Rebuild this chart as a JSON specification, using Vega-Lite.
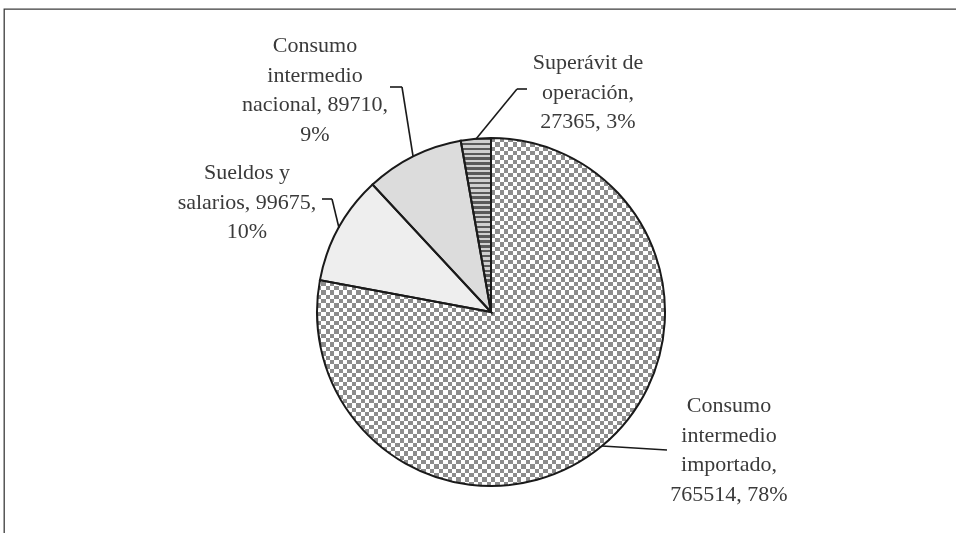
{
  "$schema": "https://vega.github.io/schema/vega-lite/v6.json",
  "width": 952,
  "height": 524,
  "autosize": {"type": "none"},
  "padding": {"left": 4, "top": 9, "right": 0, "bottom": 0},
  "background": "white",
  "view": {"stroke": "#3c3c3c", "strokeWidth": 1.3, "fill": "white", "strokeDash": [952, 1476, 524, 0]},
  "config": {
    "text": {"font": "Liberation Serif", "fontSize": 22, "fill": "#3a3a3a", "align": "center", "baseline": "middle", "lineBreak": "\n", "lineHeight": 29.5},
    "rule": {"stroke": "#1a1a1a", "strokeWidth": 1.6}
  },
  "data": {
    "values": [
      {"cat": "Consumo intermedio importado", "value": 765514, "label": "Consumo\nintermedio\nimportado,\n765514, 78%"},
      {"cat": "Sueldos y salarios", "value": 99675, "label": "Sueldos y\nsalarios, 99675,\n10%"},
      {"cat": "Consumo intermedio nacional", "value": 89710, "label": "Consumo\nintermedio\nnacional, 89710,\n9%"},
      {"cat": "Superávit de operación", "value": 27365, "label": "Superávit de\noperación,\n27365, 3%"}
    ]
  },
  "layer": [
    {
      "mark": {"type": "arc", "outerRadius": 174, "xOffset": 11, "yOffset": 41},
      "encoding": {
        "theta": {"field": "value", "type": "quantitative", "stack": true},
        "order": {"field": "value", "type": "quantitative", "sort": "descending"},
        "color": {
          "field": "cat",
          "type": "nominal",
          "scale": {
            "domain": ["Consumo intermedio importado", "Sueldos y salarios", "Consumo intermedio nacional", "Superávit de operación"],
            "range": ["#c2c2c2", "#eeeeee", "#dcdcdc", "#8a8a8a"]
          },
          "legend": null
        }
      }
    },
    {
      "mark": {
        "type": "arc", "outerRadius": 174, "xOffset": 11, "yOffset": 41,
        "fill": {"gradient": "linear", "x1": 0, "y1": 0, "x2": 1, "y2": 0, "stops": [
          {"offset": 0, "color": "#fff"},
          {"offset": 0.0125, "color": "#fff"}, {"offset": 0.0125, "color": "#000"},
          {"offset": 0.025, "color": "#000"}, {"offset": 0.025, "color": "#fff"},
          {"offset": 0.0375, "color": "#fff"}, {"offset": 0.0375, "color": "#000"},
          {"offset": 0.05, "color": "#000"}, {"offset": 0.05, "color": "#fff"},
          {"offset": 0.0625, "color": "#fff"}, {"offset": 0.0625, "color": "#000"},
          {"offset": 0.075, "color": "#000"}, {"offset": 0.075, "color": "#fff"},
          {"offset": 0.0875, "color": "#fff"}, {"offset": 0.0875, "color": "#000"},
          {"offset": 0.1, "color": "#000"}, {"offset": 0.1, "color": "#fff"},
          {"offset": 0.1125, "color": "#fff"}, {"offset": 0.1125, "color": "#000"},
          {"offset": 0.125, "color": "#000"}, {"offset": 0.125, "color": "#fff"},
          {"offset": 0.1375, "color": "#fff"}, {"offset": 0.1375, "color": "#000"},
          {"offset": 0.15, "color": "#000"}, {"offset": 0.15, "color": "#fff"},
          {"offset": 0.1625, "color": "#fff"}, {"offset": 0.1625, "color": "#000"},
          {"offset": 0.175, "color": "#000"}, {"offset": 0.175, "color": "#fff"},
          {"offset": 0.1875, "color": "#fff"}, {"offset": 0.1875, "color": "#000"},
          {"offset": 0.2, "color": "#000"}, {"offset": 0.2, "color": "#fff"},
          {"offset": 0.2125, "color": "#fff"}, {"offset": 0.2125, "color": "#000"},
          {"offset": 0.225, "color": "#000"}, {"offset": 0.225, "color": "#fff"},
          {"offset": 0.2375, "color": "#fff"}, {"offset": 0.2375, "color": "#000"},
          {"offset": 0.25, "color": "#000"}, {"offset": 0.25, "color": "#fff"},
          {"offset": 0.2625, "color": "#fff"}, {"offset": 0.2625, "color": "#000"},
          {"offset": 0.275, "color": "#000"}, {"offset": 0.275, "color": "#fff"},
          {"offset": 0.2875, "color": "#fff"}, {"offset": 0.2875, "color": "#000"},
          {"offset": 0.3, "color": "#000"}, {"offset": 0.3, "color": "#fff"},
          {"offset": 0.3125, "color": "#fff"}, {"offset": 0.3125, "color": "#000"},
          {"offset": 0.325, "color": "#000"}, {"offset": 0.325, "color": "#fff"},
          {"offset": 0.3375, "color": "#fff"}, {"offset": 0.3375, "color": "#000"},
          {"offset": 0.35, "color": "#000"}, {"offset": 0.35, "color": "#fff"},
          {"offset": 0.3625, "color": "#fff"}, {"offset": 0.3625, "color": "#000"},
          {"offset": 0.375, "color": "#000"}, {"offset": 0.375, "color": "#fff"},
          {"offset": 0.3875, "color": "#fff"}, {"offset": 0.3875, "color": "#000"},
          {"offset": 0.4, "color": "#000"}, {"offset": 0.4, "color": "#fff"},
          {"offset": 0.4125, "color": "#fff"}, {"offset": 0.4125, "color": "#000"},
          {"offset": 0.425, "color": "#000"}, {"offset": 0.425, "color": "#fff"},
          {"offset": 0.4375, "color": "#fff"}, {"offset": 0.4375, "color": "#000"},
          {"offset": 0.45, "color": "#000"}, {"offset": 0.45, "color": "#fff"},
          {"offset": 0.4625, "color": "#fff"}, {"offset": 0.4625, "color": "#000"},
          {"offset": 0.475, "color": "#000"}, {"offset": 0.475, "color": "#fff"},
          {"offset": 0.4875, "color": "#fff"}, {"offset": 0.4875, "color": "#000"},
          {"offset": 0.5, "color": "#000"}, {"offset": 0.5, "color": "#fff"},
          {"offset": 0.5125, "color": "#fff"}, {"offset": 0.5125, "color": "#000"},
          {"offset": 0.525, "color": "#000"}, {"offset": 0.525, "color": "#fff"},
          {"offset": 0.5375, "color": "#fff"}, {"offset": 0.5375, "color": "#000"},
          {"offset": 0.55, "color": "#000"}, {"offset": 0.55, "color": "#fff"},
          {"offset": 0.5625, "color": "#fff"}, {"offset": 0.5625, "color": "#000"},
          {"offset": 0.575, "color": "#000"}, {"offset": 0.575, "color": "#fff"},
          {"offset": 0.5875, "color": "#fff"}, {"offset": 0.5875, "color": "#000"},
          {"offset": 0.6, "color": "#000"}, {"offset": 0.6, "color": "#fff"},
          {"offset": 0.6125, "color": "#fff"}, {"offset": 0.6125, "color": "#000"},
          {"offset": 0.625, "color": "#000"}, {"offset": 0.625, "color": "#fff"},
          {"offset": 0.6375, "color": "#fff"}, {"offset": 0.6375, "color": "#000"},
          {"offset": 0.65, "color": "#000"}, {"offset": 0.65, "color": "#fff"},
          {"offset": 0.6625, "color": "#fff"}, {"offset": 0.6625, "color": "#000"},
          {"offset": 0.675, "color": "#000"}, {"offset": 0.675, "color": "#fff"},
          {"offset": 0.6875, "color": "#fff"}, {"offset": 0.6875, "color": "#000"},
          {"offset": 0.7, "color": "#000"}, {"offset": 0.7, "color": "#fff"},
          {"offset": 0.7125, "color": "#fff"}, {"offset": 0.7125, "color": "#000"},
          {"offset": 0.725, "color": "#000"}, {"offset": 0.725, "color": "#fff"},
          {"offset": 0.7375, "color": "#fff"}, {"offset": 0.7375, "color": "#000"},
          {"offset": 0.75, "color": "#000"}, {"offset": 0.75, "color": "#fff"},
          {"offset": 0.7625, "color": "#fff"}, {"offset": 0.7625, "color": "#000"},
          {"offset": 0.775, "color": "#000"}, {"offset": 0.775, "color": "#fff"},
          {"offset": 0.7875, "color": "#fff"}, {"offset": 0.7875, "color": "#000"},
          {"offset": 0.8, "color": "#000"}, {"offset": 0.8, "color": "#fff"},
          {"offset": 0.8125, "color": "#fff"}, {"offset": 0.8125, "color": "#000"},
          {"offset": 0.825, "color": "#000"}, {"offset": 0.825, "color": "#fff"},
          {"offset": 0.8375, "color": "#fff"}, {"offset": 0.8375, "color": "#000"},
          {"offset": 0.85, "color": "#000"}, {"offset": 0.85, "color": "#fff"},
          {"offset": 0.8625, "color": "#fff"}, {"offset": 0.8625, "color": "#000"},
          {"offset": 0.875, "color": "#000"}, {"offset": 0.875, "color": "#fff"},
          {"offset": 0.8875, "color": "#fff"}, {"offset": 0.8875, "color": "#000"},
          {"offset": 0.9, "color": "#000"}, {"offset": 0.9, "color": "#fff"},
          {"offset": 0.9125, "color": "#fff"}, {"offset": 0.9125, "color": "#000"},
          {"offset": 0.925, "color": "#000"}, {"offset": 0.925, "color": "#fff"},
          {"offset": 0.9375, "color": "#fff"}, {"offset": 0.9375, "color": "#000"},
          {"offset": 0.95, "color": "#000"}, {"offset": 0.95, "color": "#fff"},
          {"offset": 0.9625, "color": "#fff"}, {"offset": 0.9625, "color": "#000"},
          {"offset": 0.975, "color": "#000"}, {"offset": 0.975, "color": "#fff"},
          {"offset": 0.9875, "color": "#fff"}, {"offset": 0.9875, "color": "#000"},
          {"offset": 1, "color": "#000"}
        ]}
      },
      "encoding": {
        "theta": {"field": "value", "type": "quantitative", "stack": true},
        "order": {"field": "value", "type": "quantitative", "sort": "descending"},
        "fillOpacity": {"condition": {"test": "datum.cat === 'Consumo intermedio importado'", "value": 1}, "value": 0}
      }
    },
    {
      "mark": {
        "type": "arc", "outerRadius": 174, "xOffset": 11, "yOffset": 41,
        "blend": "difference",
        "fill": {"gradient": "linear", "x1": 0, "y1": 0, "x2": 0, "y2": 1, "stops": [
          {"offset": 0, "color": "#fff"},
          {"offset": 0.0125, "color": "#fff"}, {"offset": 0.0125, "color": "#000"},
          {"offset": 0.025, "color": "#000"}, {"offset": 0.025, "color": "#fff"},
          {"offset": 0.0375, "color": "#fff"}, {"offset": 0.0375, "color": "#000"},
          {"offset": 0.05, "color": "#000"}, {"offset": 0.05, "color": "#fff"},
          {"offset": 0.0625, "color": "#fff"}, {"offset": 0.0625, "color": "#000"},
          {"offset": 0.075, "color": "#000"}, {"offset": 0.075, "color": "#fff"},
          {"offset": 0.0875, "color": "#fff"}, {"offset": 0.0875, "color": "#000"},
          {"offset": 0.1, "color": "#000"}, {"offset": 0.1, "color": "#fff"},
          {"offset": 0.1125, "color": "#fff"}, {"offset": 0.1125, "color": "#000"},
          {"offset": 0.125, "color": "#000"}, {"offset": 0.125, "color": "#fff"},
          {"offset": 0.1375, "color": "#fff"}, {"offset": 0.1375, "color": "#000"},
          {"offset": 0.15, "color": "#000"}, {"offset": 0.15, "color": "#fff"},
          {"offset": 0.1625, "color": "#fff"}, {"offset": 0.1625, "color": "#000"},
          {"offset": 0.175, "color": "#000"}, {"offset": 0.175, "color": "#fff"},
          {"offset": 0.1875, "color": "#fff"}, {"offset": 0.1875, "color": "#000"},
          {"offset": 0.2, "color": "#000"}, {"offset": 0.2, "color": "#fff"},
          {"offset": 0.2125, "color": "#fff"}, {"offset": 0.2125, "color": "#000"},
          {"offset": 0.225, "color": "#000"}, {"offset": 0.225, "color": "#fff"},
          {"offset": 0.2375, "color": "#fff"}, {"offset": 0.2375, "color": "#000"},
          {"offset": 0.25, "color": "#000"}, {"offset": 0.25, "color": "#fff"},
          {"offset": 0.2625, "color": "#fff"}, {"offset": 0.2625, "color": "#000"},
          {"offset": 0.275, "color": "#000"}, {"offset": 0.275, "color": "#fff"},
          {"offset": 0.2875, "color": "#fff"}, {"offset": 0.2875, "color": "#000"},
          {"offset": 0.3, "color": "#000"}, {"offset": 0.3, "color": "#fff"},
          {"offset": 0.3125, "color": "#fff"}, {"offset": 0.3125, "color": "#000"},
          {"offset": 0.325, "color": "#000"}, {"offset": 0.325, "color": "#fff"},
          {"offset": 0.3375, "color": "#fff"}, {"offset": 0.3375, "color": "#000"},
          {"offset": 0.35, "color": "#000"}, {"offset": 0.35, "color": "#fff"},
          {"offset": 0.3625, "color": "#fff"}, {"offset": 0.3625, "color": "#000"},
          {"offset": 0.375, "color": "#000"}, {"offset": 0.375, "color": "#fff"},
          {"offset": 0.3875, "color": "#fff"}, {"offset": 0.3875, "color": "#000"},
          {"offset": 0.4, "color": "#000"}, {"offset": 0.4, "color": "#fff"},
          {"offset": 0.4125, "color": "#fff"}, {"offset": 0.4125, "color": "#000"},
          {"offset": 0.425, "color": "#000"}, {"offset": 0.425, "color": "#fff"},
          {"offset": 0.4375, "color": "#fff"}, {"offset": 0.4375, "color": "#000"},
          {"offset": 0.45, "color": "#000"}, {"offset": 0.45, "color": "#fff"},
          {"offset": 0.4625, "color": "#fff"}, {"offset": 0.4625, "color": "#000"},
          {"offset": 0.475, "color": "#000"}, {"offset": 0.475, "color": "#fff"},
          {"offset": 0.4875, "color": "#fff"}, {"offset": 0.4875, "color": "#000"},
          {"offset": 0.5, "color": "#000"}, {"offset": 0.5, "color": "#fff"},
          {"offset": 0.5125, "color": "#fff"}, {"offset": 0.5125, "color": "#000"},
          {"offset": 0.525, "color": "#000"}, {"offset": 0.525, "color": "#fff"},
          {"offset": 0.5375, "color": "#fff"}, {"offset": 0.5375, "color": "#000"},
          {"offset": 0.55, "color": "#000"}, {"offset": 0.55, "color": "#fff"},
          {"offset": 0.5625, "color": "#fff"}, {"offset": 0.5625, "color": "#000"},
          {"offset": 0.575, "color": "#000"}, {"offset": 0.575, "color": "#fff"},
          {"offset": 0.5875, "color": "#fff"}, {"offset": 0.5875, "color": "#000"},
          {"offset": 0.6, "color": "#000"}, {"offset": 0.6, "color": "#fff"},
          {"offset": 0.6125, "color": "#fff"}, {"offset": 0.6125, "color": "#000"},
          {"offset": 0.625, "color": "#000"}, {"offset": 0.625, "color": "#fff"},
          {"offset": 0.6375, "color": "#fff"}, {"offset": 0.6375, "color": "#000"},
          {"offset": 0.65, "color": "#000"}, {"offset": 0.65, "color": "#fff"},
          {"offset": 0.6625, "color": "#fff"}, {"offset": 0.6625, "color": "#000"},
          {"offset": 0.675, "color": "#000"}, {"offset": 0.675, "color": "#fff"},
          {"offset": 0.6875, "color": "#fff"}, {"offset": 0.6875, "color": "#000"},
          {"offset": 0.7, "color": "#000"}, {"offset": 0.7, "color": "#fff"},
          {"offset": 0.7125, "color": "#fff"}, {"offset": 0.7125, "color": "#000"},
          {"offset": 0.725, "color": "#000"}, {"offset": 0.725, "color": "#fff"},
          {"offset": 0.7375, "color": "#fff"}, {"offset": 0.7375, "color": "#000"},
          {"offset": 0.75, "color": "#000"}, {"offset": 0.75, "color": "#fff"},
          {"offset": 0.7625, "color": "#fff"}, {"offset": 0.7625, "color": "#000"},
          {"offset": 0.775, "color": "#000"}, {"offset": 0.775, "color": "#fff"},
          {"offset": 0.7875, "color": "#fff"}, {"offset": 0.7875, "color": "#000"},
          {"offset": 0.8, "color": "#000"}, {"offset": 0.8, "color": "#fff"},
          {"offset": 0.8125, "color": "#fff"}, {"offset": 0.8125, "color": "#000"},
          {"offset": 0.825, "color": "#000"}, {"offset": 0.825, "color": "#fff"},
          {"offset": 0.8375, "color": "#fff"}, {"offset": 0.8375, "color": "#000"},
          {"offset": 0.85, "color": "#000"}, {"offset": 0.85, "color": "#fff"},
          {"offset": 0.8625, "color": "#fff"}, {"offset": 0.8625, "color": "#000"},
          {"offset": 0.875, "color": "#000"}, {"offset": 0.875, "color": "#fff"},
          {"offset": 0.8875, "color": "#fff"}, {"offset": 0.8875, "color": "#000"},
          {"offset": 0.9, "color": "#000"}, {"offset": 0.9, "color": "#fff"},
          {"offset": 0.9125, "color": "#fff"}, {"offset": 0.9125, "color": "#000"},
          {"offset": 0.925, "color": "#000"}, {"offset": 0.925, "color": "#fff"},
          {"offset": 0.9375, "color": "#fff"}, {"offset": 0.9375, "color": "#000"},
          {"offset": 0.95, "color": "#000"}, {"offset": 0.95, "color": "#fff"},
          {"offset": 0.9625, "color": "#fff"}, {"offset": 0.9625, "color": "#000"},
          {"offset": 0.975, "color": "#000"}, {"offset": 0.975, "color": "#fff"},
          {"offset": 0.9875, "color": "#fff"}, {"offset": 0.9875, "color": "#000"},
          {"offset": 1, "color": "#000"}
        ]}
      },
      "encoding": {
        "theta": {"field": "value", "type": "quantitative", "stack": true},
        "order": {"field": "value", "type": "quantitative", "sort": "descending"},
        "fillOpacity": {"condition": {"test": "datum.cat === 'Consumo intermedio importado'", "value": 1}, "value": 0}
      }
    },
    {
      "mark": {"type": "arc", "outerRadius": 174, "xOffset": 11, "yOffset": 41, "fill": "#ffffff"},
      "encoding": {
        "theta": {"field": "value", "type": "quantitative", "stack": true},
        "order": {"field": "value", "type": "quantitative", "sort": "descending"},
        "fillOpacity": {"condition": {"test": "datum.cat === 'Consumo intermedio importado'", "value": 0.55}, "value": 0}
      }
    },
    {
      "mark": {
        "type": "arc", "outerRadius": 174, "xOffset": 11, "yOffset": 41,
        "fill": {"gradient": "linear", "x1": 0, "y1": 0, "x2": 0, "y2": 1, "stops": [
          {"offset": 0, "color": "#5a5a5a"},
          {"offset": 0.014, "color": "#5a5a5a"}, {"offset": 0.014, "color": "#d0d0d0"},
          {"offset": 0.028, "color": "#d0d0d0"}, {"offset": 0.028, "color": "#5a5a5a"},
          {"offset": 0.042, "color": "#5a5a5a"}, {"offset": 0.042, "color": "#d0d0d0"},
          {"offset": 0.056, "color": "#d0d0d0"}, {"offset": 0.056, "color": "#5a5a5a"},
          {"offset": 0.07, "color": "#5a5a5a"}, {"offset": 0.07, "color": "#d0d0d0"},
          {"offset": 0.084, "color": "#d0d0d0"}, {"offset": 0.084, "color": "#5a5a5a"},
          {"offset": 0.098, "color": "#5a5a5a"}, {"offset": 0.098, "color": "#d0d0d0"},
          {"offset": 0.112, "color": "#d0d0d0"}, {"offset": 0.112, "color": "#5a5a5a"},
          {"offset": 0.126, "color": "#5a5a5a"}, {"offset": 0.126, "color": "#d0d0d0"},
          {"offset": 0.14, "color": "#d0d0d0"}, {"offset": 0.14, "color": "#5a5a5a"},
          {"offset": 0.154, "color": "#5a5a5a"}, {"offset": 0.154, "color": "#d0d0d0"},
          {"offset": 0.168, "color": "#d0d0d0"}, {"offset": 0.168, "color": "#5a5a5a"},
          {"offset": 0.182, "color": "#5a5a5a"}, {"offset": 0.182, "color": "#d0d0d0"},
          {"offset": 0.196, "color": "#d0d0d0"}, {"offset": 0.196, "color": "#5a5a5a"},
          {"offset": 0.21, "color": "#5a5a5a"}, {"offset": 0.21, "color": "#d0d0d0"},
          {"offset": 0.224, "color": "#d0d0d0"}, {"offset": 0.224, "color": "#5a5a5a"},
          {"offset": 0.238, "color": "#5a5a5a"}, {"offset": 0.238, "color": "#d0d0d0"},
          {"offset": 0.252, "color": "#d0d0d0"}, {"offset": 0.252, "color": "#5a5a5a"},
          {"offset": 0.266, "color": "#5a5a5a"}, {"offset": 0.266, "color": "#d0d0d0"},
          {"offset": 0.28, "color": "#d0d0d0"}, {"offset": 0.28, "color": "#5a5a5a"},
          {"offset": 0.294, "color": "#5a5a5a"}, {"offset": 0.294, "color": "#d0d0d0"},
          {"offset": 0.308, "color": "#d0d0d0"}, {"offset": 0.308, "color": "#5a5a5a"},
          {"offset": 0.322, "color": "#5a5a5a"}, {"offset": 0.322, "color": "#d0d0d0"},
          {"offset": 0.336, "color": "#d0d0d0"}, {"offset": 0.336, "color": "#5a5a5a"},
          {"offset": 0.35, "color": "#5a5a5a"}, {"offset": 0.35, "color": "#d0d0d0"},
          {"offset": 0.364, "color": "#d0d0d0"}, {"offset": 0.364, "color": "#5a5a5a"},
          {"offset": 0.378, "color": "#5a5a5a"}, {"offset": 0.378, "color": "#d0d0d0"},
          {"offset": 0.392, "color": "#d0d0d0"}, {"offset": 0.392, "color": "#5a5a5a"},
          {"offset": 0.406, "color": "#5a5a5a"}, {"offset": 0.406, "color": "#d0d0d0"},
          {"offset": 0.42, "color": "#d0d0d0"}, {"offset": 0.42, "color": "#5a5a5a"},
          {"offset": 0.434, "color": "#5a5a5a"}, {"offset": 0.434, "color": "#d0d0d0"},
          {"offset": 0.448, "color": "#d0d0d0"}, {"offset": 0.448, "color": "#5a5a5a"},
          {"offset": 0.462, "color": "#5a5a5a"}, {"offset": 0.462, "color": "#d0d0d0"},
          {"offset": 0.476, "color": "#d0d0d0"}, {"offset": 0.476, "color": "#5a5a5a"},
          {"offset": 0.49, "color": "#5a5a5a"}, {"offset": 0.49, "color": "#d0d0d0"},
          {"offset": 0.504, "color": "#d0d0d0"}, {"offset": 0.504, "color": "#5a5a5a"},
          {"offset": 0.518, "color": "#5a5a5a"}, {"offset": 0.518, "color": "#d0d0d0"},
          {"offset": 0.532, "color": "#d0d0d0"}, {"offset": 0.532, "color": "#5a5a5a"},
          {"offset": 0.546, "color": "#5a5a5a"}, {"offset": 0.546, "color": "#d0d0d0"},
          {"offset": 0.56, "color": "#d0d0d0"}, {"offset": 0.56, "color": "#5a5a5a"},
          {"offset": 0.574, "color": "#5a5a5a"}, {"offset": 0.574, "color": "#d0d0d0"},
          {"offset": 0.588, "color": "#d0d0d0"}, {"offset": 0.588, "color": "#5a5a5a"},
          {"offset": 0.602, "color": "#5a5a5a"}, {"offset": 0.602, "color": "#d0d0d0"},
          {"offset": 0.616, "color": "#d0d0d0"}, {"offset": 0.616, "color": "#5a5a5a"},
          {"offset": 0.63, "color": "#5a5a5a"}, {"offset": 0.63, "color": "#d0d0d0"},
          {"offset": 0.644, "color": "#d0d0d0"}, {"offset": 0.644, "color": "#5a5a5a"},
          {"offset": 0.658, "color": "#5a5a5a"}, {"offset": 0.658, "color": "#d0d0d0"},
          {"offset": 0.672, "color": "#d0d0d0"}, {"offset": 0.672, "color": "#5a5a5a"},
          {"offset": 0.686, "color": "#5a5a5a"}, {"offset": 0.686, "color": "#d0d0d0"},
          {"offset": 0.7, "color": "#d0d0d0"}, {"offset": 0.7, "color": "#5a5a5a"},
          {"offset": 0.714, "color": "#5a5a5a"}, {"offset": 0.714, "color": "#d0d0d0"},
          {"offset": 0.728, "color": "#d0d0d0"}, {"offset": 0.728, "color": "#5a5a5a"},
          {"offset": 0.742, "color": "#5a5a5a"}, {"offset": 0.742, "color": "#d0d0d0"},
          {"offset": 0.756, "color": "#d0d0d0"}, {"offset": 0.756, "color": "#5a5a5a"},
          {"offset": 0.77, "color": "#5a5a5a"}, {"offset": 0.77, "color": "#d0d0d0"},
          {"offset": 0.784, "color": "#d0d0d0"}, {"offset": 0.784, "color": "#5a5a5a"},
          {"offset": 0.798, "color": "#5a5a5a"}, {"offset": 0.798, "color": "#d0d0d0"},
          {"offset": 0.812, "color": "#d0d0d0"}, {"offset": 0.812, "color": "#5a5a5a"},
          {"offset": 0.826, "color": "#5a5a5a"}, {"offset": 0.826, "color": "#d0d0d0"},
          {"offset": 0.84, "color": "#d0d0d0"}, {"offset": 0.84, "color": "#5a5a5a"},
          {"offset": 0.854, "color": "#5a5a5a"}, {"offset": 0.854, "color": "#d0d0d0"},
          {"offset": 0.868, "color": "#d0d0d0"}, {"offset": 0.868, "color": "#5a5a5a"},
          {"offset": 0.882, "color": "#5a5a5a"}, {"offset": 0.882, "color": "#d0d0d0"},
          {"offset": 0.896, "color": "#d0d0d0"}, {"offset": 0.896, "color": "#5a5a5a"},
          {"offset": 0.91, "color": "#5a5a5a"}, {"offset": 0.91, "color": "#d0d0d0"},
          {"offset": 0.924, "color": "#d0d0d0"}, {"offset": 0.924, "color": "#5a5a5a"},
          {"offset": 0.938, "color": "#5a5a5a"}, {"offset": 0.938, "color": "#d0d0d0"},
          {"offset": 0.952, "color": "#d0d0d0"}, {"offset": 0.952, "color": "#5a5a5a"},
          {"offset": 0.966, "color": "#5a5a5a"}, {"offset": 0.966, "color": "#d0d0d0"},
          {"offset": 0.98, "color": "#d0d0d0"}, {"offset": 0.98, "color": "#5a5a5a"},
          {"offset": 0.994, "color": "#5a5a5a"}, {"offset": 0.994, "color": "#d0d0d0"},
          {"offset": 1, "color": "#d0d0d0"}
        ]}
      },
      "encoding": {
        "theta": {"field": "value", "type": "quantitative", "stack": true},
        "order": {"field": "value", "type": "quantitative", "sort": "descending"},
        "fillOpacity": {"condition": {"test": "datum.cat === 'Superávit de operación'", "value": 1}, "value": 0}
      }
    },
    {
      "mark": {"type": "arc", "outerRadius": 174, "xOffset": 11, "yOffset": 41, "fillOpacity": 0, "stroke": "#1a1a1a", "strokeWidth": 2},
      "encoding": {
        "theta": {"field": "value", "type": "quantitative", "stack": true},
        "order": {"field": "value", "type": "quantitative", "sort": "descending"}
      }
    },
    {
      "transform": [{"filter": "datum.cat === 'Consumo intermedio importado'"}],
      "mark": {"type": "text", "dx": 249, "dy": 134},
      "encoding": {"text": {"field": "label", "type": "nominal"}}
    },
    {
      "transform": [{"filter": "datum.cat === 'Sueldos y salarios'"}],
      "mark": {"type": "text", "dx": -233, "dy": -99},
      "encoding": {"text": {"field": "label", "type": "nominal"}}
    },
    {
      "transform": [{"filter": "datum.cat === 'Consumo intermedio nacional'"}],
      "mark": {"type": "text", "dx": -165, "dy": -226},
      "encoding": {"text": {"field": "label", "type": "nominal"}}
    },
    {
      "transform": [{"filter": "datum.cat === 'Superávit de operación'"}],
      "mark": {"type": "text", "dx": 108, "dy": -209},
      "encoding": {"text": {"field": "label", "type": "nominal"}}
    },
    {
      "transform": [{"filter": "datum.cat === 'Consumo intermedio importado'"}],
      "mark": {"type": "rule"},
      "encoding": {"x": {"value": 598}, "y": {"value": 437}, "x2": {"value": 663}, "y2": {"value": 441}}
    },
    {
      "transform": [{"filter": "datum.cat === 'Sueldos y salarios'"}],
      "mark": {"type": "rule"},
      "encoding": {"x": {"value": 318}, "y": {"value": 190}, "x2": {"value": 328}, "y2": {"value": 190}}
    },
    {
      "transform": [{"filter": "datum.cat === 'Sueldos y salarios'"}],
      "mark": {"type": "rule"},
      "encoding": {"x": {"value": 328}, "y": {"value": 190}, "x2": {"value": 335}, "y2": {"value": 219}}
    },
    {
      "transform": [{"filter": "datum.cat === 'Consumo intermedio nacional'"}],
      "mark": {"type": "rule"},
      "encoding": {"x": {"value": 386}, "y": {"value": 78}, "x2": {"value": 398}, "y2": {"value": 78}}
    },
    {
      "transform": [{"filter": "datum.cat === 'Consumo intermedio nacional'"}],
      "mark": {"type": "rule"},
      "encoding": {"x": {"value": 398}, "y": {"value": 78}, "x2": {"value": 409}, "y2": {"value": 147}}
    },
    {
      "transform": [{"filter": "datum.cat === 'Superávit de operación'"}],
      "mark": {"type": "rule"},
      "encoding": {"x": {"value": 523}, "y": {"value": 80}, "x2": {"value": 513}, "y2": {"value": 80}}
    },
    {
      "transform": [{"filter": "datum.cat === 'Superávit de operación'"}],
      "mark": {"type": "rule"},
      "encoding": {"x": {"value": 513}, "y": {"value": 80}, "x2": {"value": 472}, "y2": {"value": 130}}
    }
  ]
}
